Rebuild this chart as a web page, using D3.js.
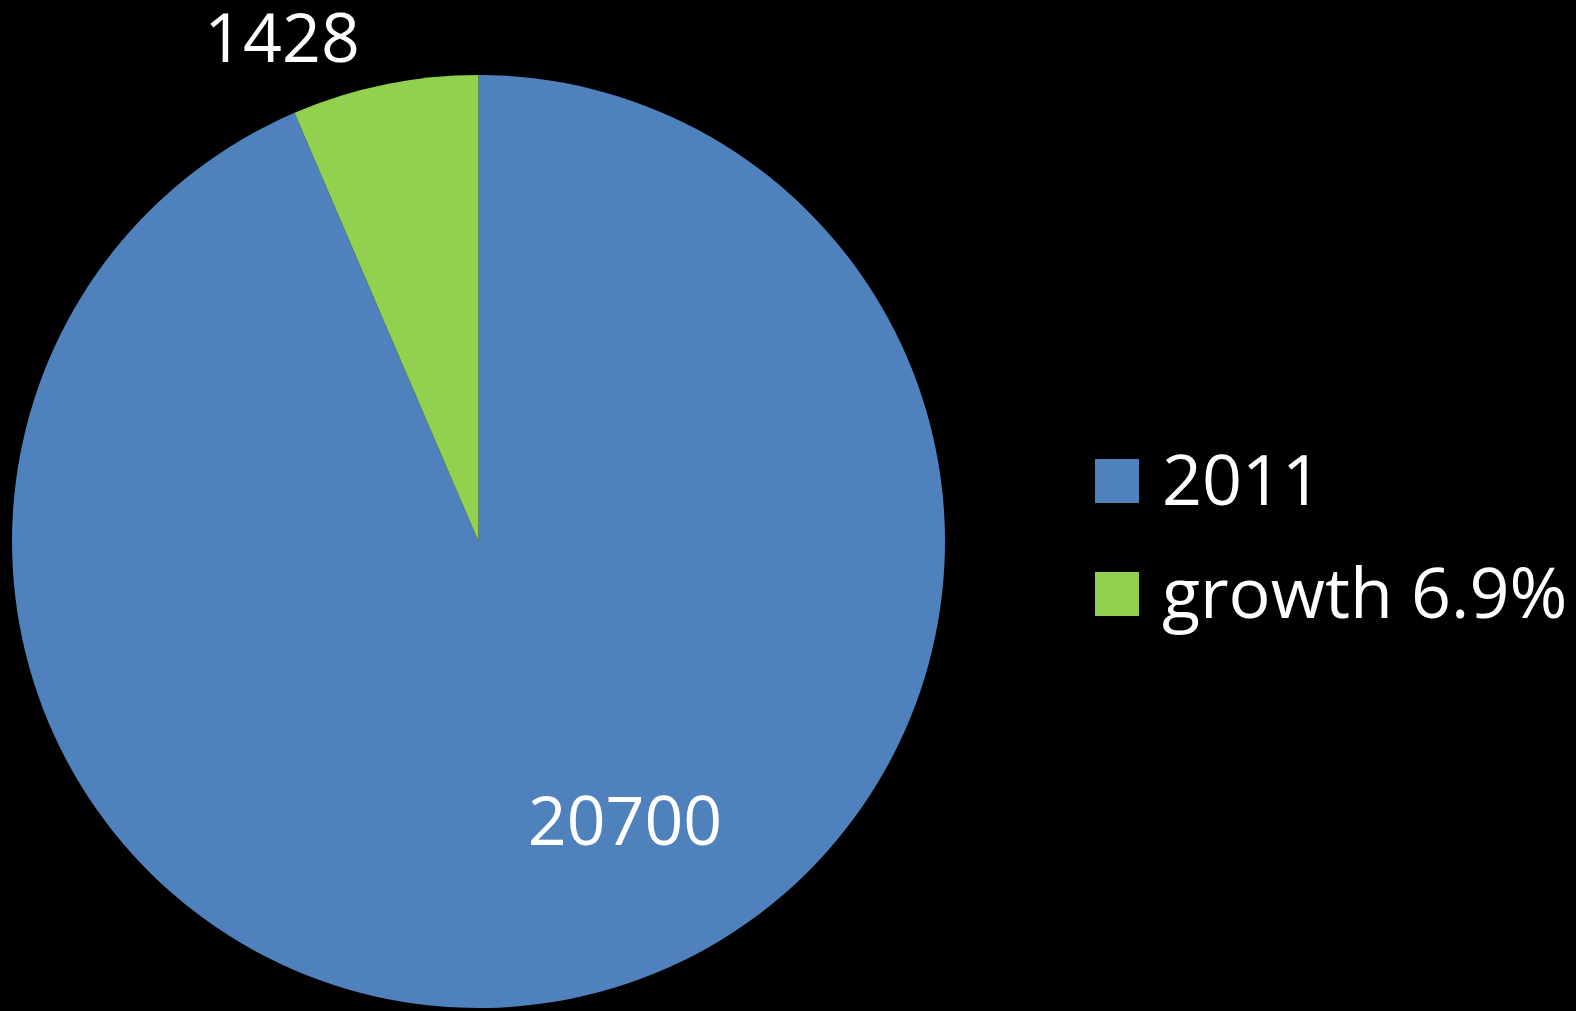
<!DOCTYPE html>
<html lang="en">
<head>
<meta charset="utf-8">
<script src="https://d3js.org/d3.v7.min.js"></script>
<style>
  html, body { margin: 0; padding: 0; background: #000; overflow: hidden; }
  svg { display: block; }
  text { font-family: "Open Sans", sans-serif; fill: #fff; }
</style>
</head>
<body>
<script>
var categories = ["2011", "growth 6.9%"];
var values = [20700, 1428];
var colors = ["#4F81BD", "#92D050"];

var width = 1576, height = 1011;
var cx = 478.5, cy = 541.5, radius = 466.5;

var svg = d3.select("body").append("svg")
    .attr("width", width)
    .attr("height", height);

var pie = d3.pie().sort(null).value(function(d) { return d; });
var arc = d3.arc().innerRadius(0).outerRadius(radius);
var color = d3.scaleOrdinal().domain(categories).range(colors);

var arcs = pie(values);
var g = svg.append("g").attr("transform", "translate(" + cx + "," + cy + ")");

g.selectAll("path")
    .data(arcs)
    .enter()
    .append("path")
    .attr("d", arc)
    .style("fill", function(d, i) { return color(categories[i]); });

// data labels (placed like Excel's best-fit)
var labelPos = [[146.5, 303.5], [-196.5, -479.5]];
g.selectAll("text.label")
    .data(arcs)
    .enter()
    .append("text")
    .attr("class", "label")
    .attr("x", function(d, i) { return labelPos[i][0]; })
    .attr("y", function(d, i) { return labelPos[i][1]; })
    .attr("text-anchor", "middle")
    .style("font-size", "68px")
    .text(function(d) { return d.data; });

// legend
var legend = svg.append("g").attr("transform", "translate(1095,459)");
var item = legend.selectAll("g")
    .data(categories)
    .enter()
    .append("g")
    .attr("transform", function(d, i) { return "translate(0," + (i * 113) + ")"; });
item.append("rect")
    .attr("width", 44)
    .attr("height", 44)
    .style("fill", function(d) { return color(d); });
item.append("text")
    .attr("x", 67)
    .attr("y", 46)
    .style("font-size", "70px")
    .text(function(d) { return d; });
</script>
</body>
</html>
